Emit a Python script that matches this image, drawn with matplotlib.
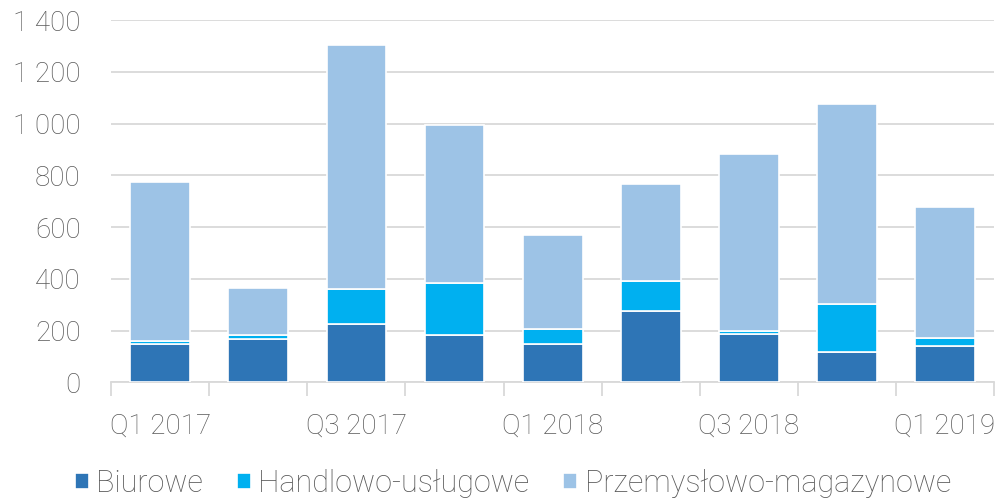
import numpy as np
import matplotlib
matplotlib.use("Agg")
import matplotlib.pyplot as plt
from matplotlib.ticker import FuncFormatter

quarters = ["Q1 2017", "Q2 2017", "Q3 2017", "Q4 2017", "Q1 2018",
            "Q2 2018", "Q3 2018", "Q4 2018", "Q1 2019"]
biurowe = [147, 167, 227, 184, 149, 276, 187, 118, 140]
handlowe = [12, 17, 134, 198, 58, 117, 10, 183, 31]
total = [774, 366, 1304, 994, 569, 766, 882, 1075, 677]
przemyslowe = [t - b - h for t, b, h in zip(total, biurowe, handlowe)]

plt.rcParams['font.family'] = ['Roboto', 'DejaVu Sans']
plt.rcParams['font.weight'] = 'light'
fs = 20

fig = plt.figure(figsize=(10.02, 5.03), dpi=100)
ax = fig.add_axes([0.111, 0.24, 0.881, 0.72])

x = np.arange(len(quarters))
w = 0.61
ax.bar(x, biurowe, w, color='#2E75B6', edgecolor='white', linewidth=1.2, label='Biurowe', zorder=3)
ax.bar(x, handlowe, w, bottom=biurowe, color='#00B0F0', edgecolor='white', linewidth=1.2,
       label='Handlowo-usługowe', zorder=3)
bottom2 = [b + h for b, h in zip(biurowe, handlowe)]
ax.bar(x, przemyslowe, w, bottom=bottom2, color='#9DC3E6', edgecolor='white', linewidth=1.2,
       label='Przemysłowo-magazynowe', zorder=3)

ax.set_ylim(0, 1400)
ax.set_xlim(-0.5, len(quarters) - 0.5)
ax.set_yticks(range(0, 1401, 200))
ax.yaxis.set_major_formatter(FuncFormatter(lambda v, p: f"{int(v):,}".replace(",", " ")))
ax.yaxis.grid(True, color='#D9D9D9', linewidth=1.3, zorder=0)
ax.tick_params(axis='y', length=0, labelsize=fs, labelcolor='#595959', pad=22)

# category boundary ticks, labels on every other quarter
ax.set_xticks(np.arange(-0.5, len(quarters), 1))
ax.set_xticklabels([])
ax.tick_params(axis='x', which='major', length=10, color='#D9D9D9', width=1.3)
ax.set_xticks(x[::2], minor=True)
ax.set_xticklabels(quarters[::2], minor=True)
ax.tick_params(axis='x', which='minor', length=0, labelsize=fs, labelcolor='#595959', pad=22)

for s in ['top', 'right', 'left']:
    ax.spines[s].set_visible(False)
ax.spines['bottom'].set_color('#D9D9D9')
ax.spines['bottom'].set_linewidth(1.3)

fig.legend(loc='lower center', bbox_to_anchor=(0.512, -0.045), ncol=3, frameon=False,
           fontsize=22, labelcolor='#595959', handlelength=0.45, handleheight=0.45,
           handletextpad=0.25, columnspacing=1.1)

fig.savefig("out.png", dpi=100)
